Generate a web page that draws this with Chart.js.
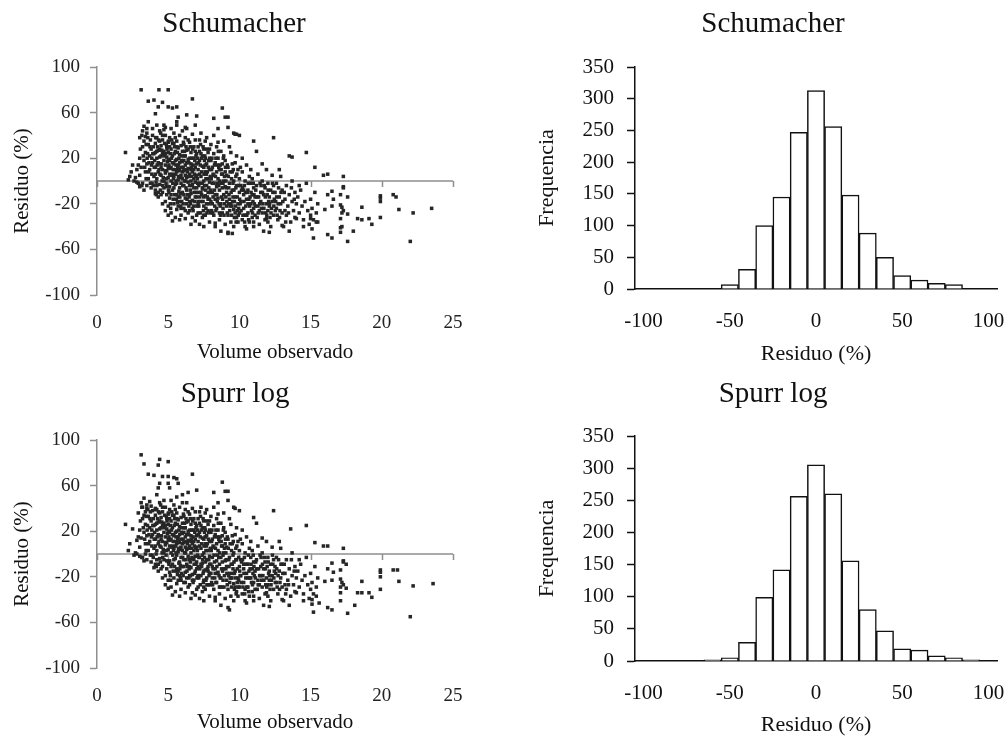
<!DOCTYPE html>
<html>
<head>
<meta charset="utf-8">
<script src="https://cdn.jsdelivr.net/npm/chart.js@4.4.1/dist/chart.umd.min.js"></script>
<style>
  html, body { margin: 0; padding: 0; background: #fff; overflow: hidden; }
  #wrap { position: relative; width: 1006px; height: 738px; overflow: hidden; }
  canvas { position: absolute; }
</style>
</head>
<body>
<div id="wrap">
  <canvas id="schScatter" width="466" height="370" style="left:0;top:0"></canvas>
  <canvas id="schHist" width="506" height="370" style="left:520px;top:0"></canvas>
  <canvas id="spuScatter" width="466" height="370" style="left:0;top:368px"></canvas>
  <canvas id="spuHist" width="506" height="370" style="left:520px;top:368px"></canvas>
</div>
<script>
// axis ticks
const volumeTicks = [0, 5, 10, 15, 20, 25];
const residualTicks = [-100, -60, -20, 20, 60, 100];
const freqTicks = [0, 50, 100, 150, 200, 250, 300, 350];

// histogram classes (residuo %) and counts
const residualBins = [-100, -90, -80, -70, -60, -50, -40, -30, -20, -10, 0, 10, 20, 30, 40, 50, 60, 70, 80, 90, 100];
const schumacherFreq = [0, 0, 0, 0, 0, 7, 31, 100, 145, 247, 313, 256, 148, 88, 50, 21, 14, 9, 7, 0, 0];
const spurrFreq = [0, 0, 0, 0, 2, 5, 29, 99, 142, 256, 305, 260, 156, 80, 47, 19, 17, 8, 5, 2, 0];

const schumacherPoints = [
  [3.1,80],[4.35,80],[5.0,80],[6.7,72],[3.6,70],[4.0,71],[4.6,69],[5.0,65],[5.3,64],[5.6,65],[4.3,65],[5.7,56],
  [6.3,58],[7.0,57],[4.1,59],[3.6,52],[4.2,49],[4.7,49],[3.5,46],[3.9,46],[4.8,47],[5.6,49],[6.2,47],[6.9,49],
  [3.0,38],[3.4,39],[2.0,25],[2.5,14],[2.3,4],[2.7,3],[4.1,-11],[5.0,-30],[5.8,-34],[6.7,-32],[7.5,-40],[8.3,-37],
  [2.2,1],[2.6,0],[2.9,-2],[2.4,8],[2.8,10],[3.0,-5],[3.3,-8],[8.2,55],[8.5,46],[9.6,42],[9.8,41],[13.5,22],
  [8.8,64],[9.0,56],[9.2,56],[9.2,47],[9.7,41],[10.0,40],[11.0,35],[12.4,38],[13.7,21],[14.7,25],[15.3,12],[15.9,5],
  [9.2,-45],[9.5,-46],[12.1,-45],[15.2,-50],[11.0,-36],[11.9,-33],[13.0,-39],[14.0,-33],[15.0,-33],[15.5,-36],
  [16.2,6],[17.3,4],[17.3,-5],[17.3,-6],[16.5,-9],[16.2,-12],[17.1,-12],[17.6,-14],[16.6,-16],[16.5,-22],[17.1,-21],
  [17.2,-23],[17.3,-26],[16.0,-25],[17.2,-28],[17.6,-29],[17.1,-33],[18.6,-23],[18.3,-33],[18.6,-34],[19.1,-33],
  [19.3,-38],[19.9,-13],[19.9,-15],[19.9,-18],[19.9,-32],[20.8,-12],[21.0,-14],[21.2,-25],[22.2,-28],[23.5,-24],
  [22.0,-53],[17.1,-41],[17.2,-40],[17.1,-45],[16.2,-47],[16.5,-50],[17.6,-53],[18.0,-44],
  [3.0,5],[3.1,12],[3.2,30],[3.2,-2],[3.3,18],[3.3,35],[3.4,8],[3.4,25],[3.5,-4],[3.5,15],[3.6,32],[3.6,2],
  [3.7,22],[3.7,10],[3.8,-6],[3.8,28],[3.9,16],[3.9,40],[4.0,4],[4.0,24],[3.2,44],[3.5,42],[3.0,20],[2.8,-1],[2.9,14],
  [4.1,-8],[4.1,12],[4.1,33],[4.2,2],[4.2,20],[4.2,38],[4.3,-14],[4.3,8],[4.3,27],[4.4,-3],[4.4,15],[4.4,44],
  [4.5,5],[4.5,22],[4.5,31],[4.6,-10],[4.6,10],[4.6,36],[4.7,0],[4.7,18],[4.7,26],[4.8,-18],[4.8,7],[4.8,14],
  [4.8,40],[4.9,-5],[4.9,21],[4.9,30],[5.0,3],[5.0,12],[5.0,-22],[5.0,34],[4.2,-4],[4.4,28],[4.6,-20],[4.9,9],
  [4.5,-12],[4.3,16],[4.7,45],[4.8,-26],[4.1,25],[4.6,24],[4.9,-12],[4.4,35],[5.0,25],
  [5.1,-15],[5.1,6],[5.1,18],[5.1,38],[5.2,-28],[5.2,0],[5.2,12],[5.2,28],[5.3,-8],[5.3,22],[5.3,33],[5.4,-20],
  [5.4,4],[5.4,15],[5.4,42],[5.5,-3],[5.5,10],[5.5,26],[5.6,-25],[5.6,-12],[5.6,8],[5.6,19],[5.6,35],[5.7,1],
  [5.7,14],[5.7,29],[5.8,-18],[5.8,-6],[5.8,23],[5.8,40],[5.9,-30],[5.9,5],[5.9,12],[5.9,31],[6.0,-10],[6.0,17],
  [6.0,2],[6.0,26],[5.3,-35],[5.5,-32],[5.7,-22],[5.2,46],[5.6,52],[5.9,-2],[5.1,-5],[5.4,33],[5.7,-14],[5.5,18],
  [5.3,6],[5.8,9],
  [6.1,-24],[6.1,-4],[6.1,9],[6.1,32],[6.2,-15],[6.2,14],[6.2,22],[6.2,38],[6.3,-8],[6.3,3],[6.3,27],[6.4,-28],
  [6.4,-1],[6.4,11],[6.4,19],[6.5,-18],[6.5,6],[6.5,34],[6.6,-11],[6.6,15],[6.6,25],[6.7,-3],[6.7,8],[6.7,41],
  [6.8,-22],[6.8,2],[6.8,20],[6.8,30],[6.9,-14],[6.9,12],[6.9,-35],[7.0,-6],[7.0,5],[7.0,24],[6.2,-33],[6.5,-26],
  [6.3,46],[6.6,-38],[6.9,36],[6.0,44],[6.4,28],[6.7,-17],[6.1,18],[6.5,-4],[6.8,10],[7.0,15],[6.6,0],[6.3,-20],
  [6.9,-1],[6.2,5],
  [7.1,-28],[7.1,-10],[7.1,10],[7.1,30],[7.2,-2],[7.2,18],[7.2,36],[7.3,-18],[7.3,4],[7.3,24],[7.4,-32],[7.4,-7],
  [7.4,13],[7.5,0],[7.5,28],[7.5,-22],[7.6,8],[7.6,-13],[7.6,20],[7.7,-4],[7.7,15],[7.7,38],[7.8,-26],[7.8,2],
  [7.8,25],[7.9,-16],[7.9,10],[7.9,-36],[8.0,-8],[8.0,18],[8.0,32],[7.2,-38],[7.5,12],[7.8,-10],[7.3,42],[7.6,-30],
  [7.9,-1],[7.4,22],[7.1,-18],[7.7,-20],[7.0,-30],[7.5,-14],[7.9,28],[7.2,6],[7.6,35],
  [8.1,-20],[8.1,-2],[8.1,12],[8.2,-30],[8.2,5],[8.2,24],[8.3,-12],[8.3,-40],[8.3,16],[8.4,-5],[8.4,30],[8.4,-24],
  [8.5,2],[8.5,-15],[8.5,20],[8.6,-34],[8.6,-8],[8.6,10],[8.7,-2],[8.7,26],[8.7,-20],[8.8,6],[8.8,-28],[8.8,15],
  [8.9,-12],[8.9,0],[8.9,35],[9.0,-38],[9.0,-5],[9.0,18],[8.2,40],[8.5,34],[8.3,-16],[8.7,-44],[8.9,22],[8.1,-10],
  [8.4,8],[8.6,-28],[8.8,-6],[9.0,8],
  [9.1,-22],[9.1,-10],[9.1,5],[9.2,-30],[9.2,12],[9.3,-2],[9.3,-16],[9.4,25],[9.4,-36],[9.5,-8],[9.5,8],[9.6,-25],
  [9.6,0],[9.7,-14],[9.7,16],[9.8,-32],[9.8,-4],[9.9,-20],[9.9,10],[10.0,-10],[10.0,-28],[10.0,2],[9.3,30],[9.6,-40],
  [9.8,22],[9.2,-46],[9.4,-20],[9.7,-28],[9.9,-36],[9.5,15],
  [10.1,-18],[10.1,-4],[10.2,-34],[10.2,8],[10.3,-12],[10.3,-24],[10.4,0],[10.4,-40],[10.5,-16],[10.5,14],[10.6,-8],
  [10.6,-28],[10.7,4],[10.7,-36],[10.8,-20],[10.8,-2],[10.9,-12],[10.9,-32],[11.0,-6],[11.0,-24],[10.2,20],[10.5,-42],
  [10.8,10],[11.0,-40],[10.3,-8],[10.6,-20],[10.9,2],[10.4,-30],
  [11.1,-14],[11.1,-30],[11.2,-4],[11.3,-22],[11.3,6],[11.4,-38],[11.5,-10],[11.5,-18],[11.6,0],[11.6,-28],[11.7,-12],
  [11.8,-34],[11.8,-6],[11.9,-20],[12.0,-2],[12.0,-26],[12.1,-14],[12.2,-40],[12.2,-8],[12.3,-18],[12.4,-30],[12.4,-4],
  [11.2,26],[11.6,15],[11.9,10],[12.3,5],[11.4,-26],[12.0,-36],[11.7,-44],[12.1,-22],
  [12.5,-10],[12.6,-24],[12.6,-2],[12.7,-34],[12.8,-14],[12.9,-20],[12.9,4],[13.0,-28],[13.0,-8],[13.1,-40],[13.2,-16],
  [13.3,-4],[13.3,-30],[13.4,-22],[13.5,-12],[13.6,-36],[13.7,-18],[13.7,0],[13.8,-26],[13.9,-10],[14.0,-20],[12.8,10],
  [13.5,-44],[13.2,-26],[13.9,-32],
  [14.1,-14],[14.2,-28],[14.3,-8],[14.4,-22],[14.5,-34],[14.6,-18],[14.7,-2],[14.8,-26],[14.9,-38],[15.0,-16],[15.0,-30],
  [15.1,-24],[15.2,-34],[15.3,-10],[15.4,-28],[15.5,-20],[14.5,-40],[15.1,-42],[14.2,-4],[15.4,-36],
  // dense core
  [4.05,18],[4.15,-1],[4.25,30],[4.35,10],[4.45,-8],[4.55,27],[4.65,3],[4.75,33],[4.85,-2],[4.95,17],
  [4.1,6],[4.2,26],[4.3,-10],[4.4,21],[4.5,12],[4.6,40],[4.7,-6],[4.8,24],[4.9,2],[5.0,19],
  [5.05,-10],[5.15,24],[5.25,5],[5.35,-16],[5.45,30],[5.55,0],[5.65,-19],[5.75,20],[5.85,-11],[5.95,22],
  [5.05,14],[5.15,-20],[5.25,36],[5.35,10],[5.45,-12],[5.55,14],[5.65,25],[5.75,-9],[5.85,3],[5.95,-18],
  [5.1,30],[5.2,-12],[5.3,16],[5.4,-6],[5.5,38],[5.6,-2],[5.7,10],[5.8,16],[5.9,-24],[6.0,8],
  [6.05,-20],[6.15,0],[6.25,30],[6.35,-12],[6.45,16],[6.55,-8],[6.65,20],[6.75,-26],[6.85,6],[6.95,-10],
  [6.05,12],[6.15,26],[6.25,-6],[6.35,8],[6.45,-22],[6.55,30],[6.65,4],[6.75,14],[6.85,-18],[6.95,22],
  [6.1,-12],[6.2,-26],[6.3,16],[6.4,36],[6.5,-12],[6.6,10],[6.7,-24],[6.8,-6],[6.9,26],[7.0,-14],
  [7.05,2],[7.15,-22],[7.25,14],[7.35,-12],[7.45,30],[7.55,-4],[7.65,-24],[7.75,8],[7.85,18],[7.95,-28],
  [7.05,20],[7.15,-4],[7.25,-28],[7.35,8],[7.45,-18],[7.55,18],[7.65,2],[7.75,-14],[7.85,-6],[7.95,4],
  [7.1,-20],[7.2,26],[7.3,-10],[7.4,-2],[7.5,-30],[7.6,14],[7.7,28],[7.8,-16],[7.9,20],[8.0,-18],
  [8.05,-26],[8.15,6],[8.25,-8],[8.35,20],[8.45,-18],[8.55,-4],[8.65,14],[8.75,-14],[8.85,-24],[8.95,4],
  [8.05,10],[8.15,-14],[8.25,14],[8.35,-26],[8.45,-2],[8.55,12],[8.65,-22],[8.75,6],[8.85,-2],[8.95,-20],
  [9.05,-14],[9.15,-28],[9.25,-6],[9.35,-22],[9.45,2],[9.55,-14],[9.65,-32],[9.75,-6],[9.85,-14],[9.95,-24],
  [9.05,0],[9.15,14],[9.25,-20],[9.35,8],[9.45,-30],[9.55,-2],[9.65,-18],[9.75,4],[9.85,-26],[9.95,-4],
  [10.05,-20],[10.15,-8],[10.25,-30],[10.35,-4],[10.45,-22],[10.55,-10],[10.65,-34],[10.75,-14],[10.85,-26],[10.95,-18],
  [11.05,-20],[11.15,-8],[11.25,-32],[11.35,-14],[11.45,-2],[11.55,-24],[11.65,-20],[11.75,-4],[11.85,-28],[11.95,-12],
  [12.05,-18],[12.15,-32],[12.25,-24],[12.35,-10],[12.45,-16],
  [12.55,-18],[12.65,-30],[12.75,-6],[12.85,-26],[13.05,-18],[13.15,-10],[13.25,-36],[13.45,-28],[13.65,-6],[13.85,-16],
  [3.05,28],[3.15,-4],[3.25,22],[3.35,12],[3.45,32],[3.55,24],[3.65,16],[3.75,36],[3.85,6],[3.95,30],
  [3.15,40],[3.45,2],[3.75,-2],[3.85,20],[3.3,48],[3.95,-4],
  [4.52,15],[4.62,-4],[4.72,22],[4.82,9],[4.92,28],[5.02,-8],[5.12,11],[5.22,20],[5.32,-2],[5.42,24],[5.52,6],
  [5.02,35],[4.57,0],[4.87,32],[5.17,-24],[5.37,2],
  [5.57,-16],[5.62,30],[5.72,4],[5.82,-14],[5.92,18],[6.02,-4],[6.12,22],[6.22,0],[6.32,-16],[6.42,4],[6.52,20],
  [5.67,12],[5.87,-22],[6.07,34],[6.27,10],[6.47,-14],
  [6.57,-20],[6.62,12],[6.72,28],[6.82,-10],[6.92,4],[7.02,-22],[7.12,16],[7.22,-14],[7.32,20],[7.42,-6],[7.52,6],
  [6.67,-4],[6.87,18],[7.07,-2],[7.27,32],[7.47,-26],
  [7.57,22],[7.62,-8],[7.72,-28],[7.82,12],[7.92,-10],[8.02,2],[8.12,-28],[8.22,-2],[8.32,4],[8.42,-12],[8.52,26],
  [7.67,6],[7.87,-20],[8.07,20],[8.27,-22],[8.47,14],
  [8.57,-20],[8.62,0],[8.72,10],[8.82,-16],[8.92,-30],[9.02,12],[9.12,-18],[9.22,4],[9.32,-26],[9.42,-10],
  [8.67,-30],[8.87,20],[9.07,-6],[9.27,-12],[9.47,-22],
  [9.52,-18],[9.62,-8],[9.72,-22],[9.82,6],[9.92,-30],[10.02,-16],[10.12,-26],[10.22,-6],[10.32,-18],[10.42,-10],
  [10.52,-30],[10.62,-2],[10.72,-22],[10.82,-10],[10.92,-28],[9.57,10],[9.77,-36],[10.07,12],[10.37,-36],[10.67,-16],[10.97,-2],
  [11.02,-12],[11.12,-22],[11.22,-14],[11.32,-28],[11.42,-20],[11.52,-4],[11.62,-10],[11.72,-24],[11.82,-14],[11.92,-30],
  [12.02,-8],[12.12,-20],[12.22,-28],[12.32,-2],[12.42,-22],[12.52,-26],[12.62,-14],[12.72,-20],[12.82,-32],[12.92,-10],
  [3.52,20],[3.62,8],[3.72,30],[3.82,14],[3.92,24],[4.02,12],[4.12,38],[4.22,14],[4.32,36],[4.42,6],
  [3.57,38],[3.87,-2],[4.17,-12],[4.47,42]
];

const spurrPoints = [
  [3.1,87],[3.3,79],[4.4,83],[4.3,78],[5.0,81],[6.7,70],[3.6,70],[4.0,69],[4.6,68],[5.0,68],[5.4,67],[5.6,66],
  [4.4,62],[5.0,62],[5.7,62],[4.3,58],[5.1,58],[6.0,52],[6.4,54],[7.0,56],[4.2,52],[3.7,46],[3.1,45],[3.5,43],
  [3.8,42],[4.1,40],[2.9,36],[3.4,37],[2.0,26],[2.5,22],[2.3,9],[2.7,1],[3.0,-2],[3.4,0],[4.0,-12],[5.0,-30],
  [5.8,-37],[6.7,-34],[7.5,-41],[8.3,-38],[2.2,3],[2.6,-1],[2.8,12],[3.3,-6],[8.2,54],[8.5,45],[9.6,41],[13.6,22],
  [8.8,63],[9.0,55],[9.2,55],[9.2,47],[9.7,40],[10.0,38],[11.0,32],[12.4,38],[14.7,25],[15.3,10],[15.9,7],
  [9.2,-47],[9.3,-49],[12.1,-46],[15.2,-51],[15.1,-44],[15.6,-43],[11.0,-37],[11.9,-34],[13.0,-40],[14.0,-34],
  [16.2,7],[17.3,5],[17.3,-6],[17.3,-7],[17.5,-9],[16.5,-8],[16.2,-13],[17.1,-14],[16.6,-16],[16.0,-24],[16.5,-23],
  [17.1,-22],[17.2,-25],[17.3,-27],[17.5,-30],[17.1,-29],[17.1,-34],[17.1,-41],[16.2,-47],[16.5,-49],[17.6,-52],
  [18.1,-45],[18.6,-24],[18.3,-34],[18.6,-34],[19.1,-34],[19.3,-38],[19.9,-14],[19.9,-16],[19.9,-20],[19.9,-31],
  [20.8,-14],[21.1,-14],[21.2,-24],[22.2,-28],[23.6,-26],[22.0,-55],
  [3.0,6],[3.1,14],[3.2,31],[3.2,-3],[3.3,19],[3.3,34],[3.4,9],[3.4,26],[3.5,-5],[3.5,16],[3.6,33],[3.6,3],
  [3.7,23],[3.7,11],[3.8,-7],[3.8,29],[3.9,17],[3.9,38],[4.0,5],[4.0,25],[3.2,41],[3.5,40],[3.0,21],[2.8,0],[2.9,15],
  [4.1,-9],[4.1,13],[4.1,34],[4.2,3],[4.2,21],[4.2,39],[4.3,-15],[4.3,9],[4.3,28],[4.4,-4],[4.4,16],[4.4,45],
  [4.5,6],[4.5,23],[4.5,32],[4.6,-11],[4.6,11],[4.6,37],[4.7,1],[4.7,19],[4.7,27],[4.8,-19],[4.8,8],[4.8,15],
  [4.8,41],[4.9,-6],[4.9,22],[4.9,31],[5.0,4],[5.0,13],[5.0,-23],[5.0,35],[4.2,-5],[4.4,29],[4.6,-21],[4.9,10],
  [4.5,-13],[4.3,17],[4.7,47],[4.8,-27],[4.1,26],[4.6,25],[4.9,-13],[4.4,36],[5.0,26],
  [5.1,-16],[5.1,7],[5.1,19],[5.1,39],[5.2,-29],[5.2,1],[5.2,13],[5.2,29],[5.3,-9],[5.3,23],[5.3,34],[5.4,-21],
  [5.4,5],[5.4,16],[5.4,43],[5.5,-4],[5.5,11],[5.5,27],[5.6,-26],[5.6,-13],[5.6,9],[5.6,20],[5.6,36],[5.7,2],
  [5.7,15],[5.7,30],[5.8,-19],[5.8,-7],[5.8,24],[5.8,41],[5.9,-31],[5.9,6],[5.9,13],[5.9,32],[6.0,-11],[6.0,18],
  [6.0,3],[6.0,27],[5.3,-36],[5.5,-33],[5.7,-23],[5.2,47],[5.6,50],[5.9,-3],[5.1,-6],[5.4,34],[5.7,-15],[5.5,19],
  [5.3,7],[5.8,10],
  [6.1,-25],[6.1,-5],[6.1,10],[6.1,33],[6.2,-16],[6.2,15],[6.2,23],[6.2,39],[6.3,-9],[6.3,4],[6.3,28],[6.4,-29],
  [6.4,-2],[6.4,12],[6.4,20],[6.5,-19],[6.5,7],[6.5,35],[6.6,-12],[6.6,16],[6.6,26],[6.7,-4],[6.7,9],[6.7,40],
  [6.8,-23],[6.8,3],[6.8,21],[6.8,31],[6.9,-15],[6.9,13],[6.9,-36],[7.0,-7],[7.0,6],[7.0,25],[6.2,-34],[6.5,-27],
  [6.3,45],[6.6,-39],[6.9,37],[6.0,45],[6.4,29],[6.7,-18],[6.1,19],[6.5,-5],[6.8,11],[7.0,16],[6.6,1],[6.3,-21],
  [6.9,-2],[6.2,6],
  [7.1,-29],[7.1,-11],[7.1,11],[7.1,31],[7.2,-3],[7.2,19],[7.2,37],[7.3,-19],[7.3,5],[7.3,25],[7.4,-33],[7.4,-8],
  [7.4,14],[7.5,1],[7.5,29],[7.5,-23],[7.6,9],[7.6,-14],[7.6,21],[7.7,-5],[7.7,16],[7.7,39],[7.8,-27],[7.8,3],
  [7.8,26],[7.9,-17],[7.9,11],[7.9,-37],[8.0,-9],[8.0,19],[8.0,33],[7.2,-39],[7.5,13],[7.8,-11],[7.3,41],[7.6,-31],
  [7.9,-2],[7.4,23],[7.1,-19],[7.7,-21],[7.0,-31],[7.5,-15],[7.9,29],[7.2,7],[7.6,36],
  [8.1,-21],[8.1,-3],[8.1,13],[8.2,-31],[8.2,6],[8.2,25],[8.3,-13],[8.3,-41],[8.3,17],[8.4,-6],[8.4,31],[8.4,-25],
  [8.5,3],[8.5,-16],[8.5,21],[8.6,-35],[8.6,-9],[8.6,11],[8.7,-3],[8.7,27],[8.7,-21],[8.8,7],[8.8,-29],[8.8,16],
  [8.9,-13],[8.9,1],[8.9,36],[9.0,-39],[9.0,-6],[9.0,19],[8.2,41],[8.5,35],[8.3,-17],[8.7,-45],[8.9,23],[8.1,-11],
  [8.4,9],[8.6,-29],[8.8,-7],[9.0,9],
  [9.1,-23],[9.1,-11],[9.1,6],[9.2,-31],[9.2,13],[9.3,-3],[9.3,-17],[9.4,26],[9.4,-37],[9.5,-9],[9.5,9],[9.6,-26],
  [9.6,1],[9.7,-15],[9.7,17],[9.8,-33],[9.8,-5],[9.9,-21],[9.9,11],[10.0,-11],[10.0,-29],[10.0,3],[9.3,31],[9.6,-41],
  [9.8,23],[9.4,-21],[9.7,-29],[9.9,-37],[9.5,16],
  [10.1,-19],[10.1,-5],[10.2,-35],[10.2,9],[10.3,-13],[10.3,-25],[10.4,1],[10.4,-41],[10.5,-17],[10.5,15],[10.6,-9],
  [10.6,-29],[10.7,5],[10.7,-37],[10.8,-21],[10.8,-3],[10.9,-13],[10.9,-33],[11.0,-7],[11.0,-25],[10.2,21],[10.5,-43],
  [10.8,11],[11.0,-41],[10.3,-9],[10.6,-21],[10.9,3],[10.4,-31],
  [11.1,-15],[11.1,-31],[11.2,-5],[11.3,-23],[11.3,7],[11.4,-39],[11.5,-11],[11.5,-19],[11.6,1],[11.6,-29],[11.7,-13],
  [11.8,-35],[11.8,-7],[11.9,-21],[12.0,-3],[12.0,-27],[12.1,-15],[12.2,-41],[12.2,-9],[12.3,-19],[12.4,-31],[12.4,-5],
  [11.2,27],[11.6,14],[11.9,11],[12.3,6],[11.4,-27],[12.0,-37],[11.7,-45],[12.1,-23],
  [12.5,-11],[12.6,-25],[12.6,-3],[12.7,-35],[12.8,-15],[12.9,-21],[12.9,5],[13.0,-29],[13.0,-9],[13.1,-41],[13.2,-17],
  [13.3,-5],[13.3,-31],[13.4,-23],[13.5,-13],[13.6,-37],[13.7,-19],[13.7,1],[13.8,-27],[13.9,-11],[14.0,-21],[12.8,11],
  [13.5,-45],[13.2,-27],[13.9,-33],
  [14.1,-15],[14.2,-29],[14.3,-9],[14.4,-23],[14.5,-35],[14.6,-19],[14.7,-3],[14.8,-27],[14.9,-39],[15.0,-17],[15.0,-31],
  [15.1,-25],[15.2,-35],[15.3,-11],[15.4,-29],[15.5,-21],[14.5,-41],[15.1,-40],[14.2,-5],[15.4,-37],
  // dense core
  [4.05,19],[4.15,0],[4.25,31],[4.35,11],[4.45,-7],[4.55,28],[4.65,4],[4.75,34],[4.85,-1],[4.95,18],
  [4.1,7],[4.2,27],[4.3,-9],[4.4,22],[4.5,13],[4.6,41],[4.7,-5],[4.8,25],[4.9,3],[5.0,20],
  [5.05,-9],[5.15,25],[5.25,6],[5.35,-15],[5.45,31],[5.55,1],[5.65,-18],[5.75,21],[5.85,-10],[5.95,23],
  [5.05,15],[5.15,-19],[5.25,37],[5.35,11],[5.45,-11],[5.55,15],[5.65,26],[5.75,-8],[5.85,4],[5.95,-17],
  [5.1,31],[5.2,-11],[5.3,17],[5.4,-5],[5.5,39],[5.6,-1],[5.7,11],[5.8,17],[5.9,-23],[6.0,9],
  [6.05,-19],[6.15,1],[6.25,31],[6.35,-11],[6.45,17],[6.55,-7],[6.65,21],[6.75,-25],[6.85,7],[6.95,-9],
  [6.05,13],[6.15,27],[6.25,-5],[6.35,9],[6.45,-21],[6.55,31],[6.65,5],[6.75,15],[6.85,-17],[6.95,23],
  [6.1,-11],[6.2,-25],[6.3,17],[6.4,37],[6.5,-11],[6.6,11],[6.7,-23],[6.8,-5],[6.9,27],[7.0,-13],
  [7.05,3],[7.15,-21],[7.25,15],[7.35,-11],[7.45,31],[7.55,-3],[7.65,-23],[7.75,9],[7.85,19],[7.95,-27],
  [7.05,21],[7.15,-3],[7.25,-27],[7.35,9],[7.45,-17],[7.55,19],[7.65,3],[7.75,-13],[7.85,-5],[7.95,5],
  [7.1,-19],[7.2,27],[7.3,-9],[7.4,-1],[7.5,-29],[7.6,15],[7.7,29],[7.8,-15],[7.9,21],[8.0,-17],
  [8.05,-25],[8.15,7],[8.25,-7],[8.35,21],[8.45,-17],[8.55,-3],[8.65,15],[8.75,-13],[8.85,-23],[8.95,5],
  [8.05,11],[8.15,-13],[8.25,15],[8.35,-25],[8.45,-1],[8.55,13],[8.65,-21],[8.75,7],[8.85,-1],[8.95,-19],
  [9.05,-13],[9.15,-27],[9.25,-5],[9.35,-21],[9.45,3],[9.55,-13],[9.65,-31],[9.75,-5],[9.85,-13],[9.95,-23],
  [9.05,1],[9.15,15],[9.25,-19],[9.35,9],[9.45,-29],[9.55,-1],[9.65,-17],[9.75,5],[9.85,-25],[9.95,-3],
  [10.05,-19],[10.15,-7],[10.25,-29],[10.35,-3],[10.45,-21],[10.55,-9],[10.65,-33],[10.75,-13],[10.85,-25],[10.95,-17],
  [11.05,-19],[11.15,-7],[11.25,-31],[11.35,-13],[11.45,-1],[11.55,-23],[11.65,-19],[11.75,-3],[11.85,-27],[11.95,-11],
  [12.05,-17],[12.15,-31],[12.25,-23],[12.35,-9],[12.45,-15],
  [12.55,-17],[12.65,-29],[12.75,-5],[12.85,-25],[13.05,-17],[13.15,-9],[13.25,-35],[13.45,-27],[13.65,-5],[13.85,-15],
  [3.05,29],[3.15,-3],[3.25,23],[3.35,13],[3.45,33],[3.55,25],[3.65,17],[3.75,37],[3.85,7],[3.95,31],
  [3.15,41],[3.45,3],[3.75,-1],[3.85,21],[3.3,49],[3.95,-3],
  [4.52,16],[4.62,-3],[4.72,23],[4.82,10],[4.92,29],[5.02,-7],[5.12,12],[5.22,21],[5.32,-1],[5.42,25],[5.52,7],
  [5.02,36],[4.57,1],[4.87,33],[5.17,-23],[5.37,3],
  [5.57,-15],[5.62,31],[5.72,5],[5.82,-13],[5.92,19],[6.02,-3],[6.12,23],[6.22,1],[6.32,-15],[6.42,5],[6.52,21],
  [5.67,13],[5.87,-21],[6.07,35],[6.27,11],[6.47,-13],
  [6.57,-19],[6.62,13],[6.72,29],[6.82,-9],[6.92,5],[7.02,-21],[7.12,17],[7.22,-13],[7.32,21],[7.42,-5],[7.52,7],
  [6.67,-3],[6.87,19],[7.07,-1],[7.27,33],[7.47,-25],
  [7.57,23],[7.62,-7],[7.72,-27],[7.82,13],[7.92,-9],[8.02,3],[8.12,-27],[8.22,-1],[8.32,5],[8.42,-11],[8.52,27],
  [7.67,7],[7.87,-19],[8.07,21],[8.27,-21],[8.47,15],
  [8.57,-19],[8.62,1],[8.72,11],[8.82,-15],[8.92,-29],[9.02,13],[9.12,-17],[9.22,5],[9.32,-25],[9.42,-9],
  [8.67,-29],[8.87,21],[9.07,-5],[9.27,-11],[9.47,-21],
  [9.52,-17],[9.62,-7],[9.72,-21],[9.82,7],[9.92,-29],[10.02,-15],[10.12,-25],[10.22,-5],[10.32,-17],[10.42,-9],
  [10.52,-29],[10.62,-1],[10.72,-21],[10.82,-9],[10.92,-27],[9.57,11],[9.77,-35],[10.07,13],[10.37,-35],[10.67,-15],[10.97,-1],
  [11.02,-11],[11.12,-21],[11.22,-13],[11.32,-27],[11.42,-19],[11.52,-3],[11.62,-9],[11.72,-23],[11.82,-13],[11.92,-29],
  [12.02,-7],[12.12,-19],[12.22,-27],[12.32,-1],[12.42,-21],[12.52,-25],[12.62,-13],[12.72,-19],[12.82,-31],[12.92,-9],
  [3.52,21],[3.62,9],[3.72,31],[3.82,15],[3.92,25],[4.02,13],[4.12,39],[4.22,15],[4.32,37],[4.42,7],
  [3.57,39],[3.87,-1],[4.17,-11],[4.47,43]
];

const SERIF = '"Liberation Serif", "Times New Roman", serif';

// panel title drawn at a fixed spot (Excel centres it over the whole panel)
const panelTitle = {
  id: 'panelTitle',
  afterDraw(chart, args, opts) {
    const ctx = chart.ctx;
    ctx.save();
    ctx.font = opts.size + 'px ' + SERIF;
    ctx.fillStyle = '#111';
    ctx.textAlign = 'center';
    ctx.textBaseline = 'middle';
    ctx.fillText(opts.text, opts.x, opts.y);
    ctx.restore();
  }
};

// horizontal line at residuo = 0 with the x tick marks hanging from it
const zeroLine = {
  id: 'zeroLine',
  beforeDatasetsDraw(chart) {
    const { ctx, scales: { x, y } } = chart;
    const y0 = y.getPixelForValue(0);
    ctx.save();
    ctx.strokeStyle = '#8f8f8f';
    ctx.lineWidth = 1.5;
    ctx.beginPath();
    ctx.moveTo(x.left, y0);
    ctx.lineTo(x.right, y0);
    x.ticks.forEach(t => {
      const px = Math.round(x.getPixelForValue(t.value)) + 0.5;
      ctx.moveTo(px, y0);
      ctx.lineTo(px, y0 + 6);
    });
    ctx.stroke();
    ctx.restore();
  }
};

function scatterChart(id, title, points, g) {
  return new Chart(document.getElementById(id), {
    type: 'scatter',
    data: {
      datasets: [{
        data: points.map(p => ({ x: p[0], y: p[1] })),
        pointStyle: 'rect',
        pointRadius: 2.5,
        backgroundColor: '#262626',
        borderWidth: 0
      }]
    },
    options: {
      responsive: false,
      animation: false,
      layout: { padding: { left: 0, right: g.padRight, top: g.top, bottom: 0 } },
      plugins: {
        legend: { display: false },
        tooltip: { enabled: false },
        panelTitle: { text: title, x: g.titleX, y: g.titleY, size: 29 }
      },
      scales: {
        x: {
          type: 'linear', min: 0, max: 25,
          afterBuildTicks: s => { s.ticks = volumeTicks.map(v => ({ value: v })); },
          border: { display: false },
          grid: { display: false, drawTicks: false },
          ticks: { padding: 17, color: '#222', maxRotation: 0, font: { family: SERIF, size: 19 } },
          title: { display: true, text: 'Volume observado', color: '#111',
                   font: { family: SERIF, size: 21 }, padding: { top: 0, bottom: g.xTitlePad } },
          afterFit: s => { s.height = g.xHeight; s.paddingLeft = 0; s.paddingRight = 0; }
        },
        y: {
          min: -100, max: 100,
          afterBuildTicks: s => { s.ticks = residualTicks.map(v => ({ value: v })); },
          border: { display: true, color: '#8f8f8f', width: 1.5 },
          grid: { drawOnChartArea: false, drawTicks: true, tickLength: 7, tickColor: '#8f8f8f', tickWidth: 1.5 },
          ticks: { padding: 10, color: '#222', font: { family: SERIF, size: 19 } },
          title: { display: true, text: 'Residuo (%)', color: '#111',
                   font: { family: SERIF, size: 21 }, padding: { top: 10, bottom: 0 } },
          afterFit: s => { s.width = g.yWidth; s.paddingTop = 0; s.paddingBottom = 0; }
        }
      }
    },
    plugins: [zeroLine, panelTitle]
  });
}

function histChart(id, title, freq, g) {
  return new Chart(document.getElementById(id), {
    type: 'bar',
    data: {
      labels: residualBins,
      datasets: [{
        data: freq,
        backgroundColor: '#ffffff',
        borderColor: '#111',
        borderWidth: 1.5,
        barPercentage: 1,
        categoryPercentage: 1
      }]
    },
    options: {
      responsive: false,
      animation: false,
      layout: { padding: { left: 0, right: g.padRight, top: g.top, bottom: 0 } },
      plugins: {
        legend: { display: false },
        tooltip: { enabled: false },
        panelTitle: { text: title, x: g.titleX, y: g.titleY, size: 29 }
      },
      scales: {
        x: {
          border: { display: true, color: '#111', width: 1.5 },
          grid: { display: false, drawTicks: false },
          ticks: {
            autoSkip: false, maxRotation: 0, padding: 20, color: '#111',
            font: { family: SERIF, size: 21 },
            callback: (v, i) => (residualBins[i] % 50 === 0 ? String(residualBins[i]) : '')
          },
          title: { display: true, text: 'Residuo (%)', color: '#111',
                   font: { family: SERIF, size: 22 }, padding: { top: 0, bottom: g.xTitlePad } },
          afterFit: s => { s.height = g.xHeight; s.paddingLeft = 0; s.paddingRight = 0; }
        },
        y: {
          min: 0, max: 350,
          afterBuildTicks: s => { s.ticks = freqTicks.map(v => ({ value: v })); },
          border: { display: true, color: '#111', width: 1.5 },
          grid: { drawOnChartArea: false, drawTicks: true, tickLength: 8, tickColor: '#111', tickWidth: 1.5 },
          ticks: { padding: 13, color: '#111', font: { family: SERIF, size: 21 } },
          title: { display: true, text: 'Frequencia', color: '#111',
                   font: { family: SERIF, size: 22 }, padding: { top: 14, bottom: 0 } },
          afterFit: s => { s.width = g.yWidth; s.paddingTop = 0; s.paddingBottom = 0; }
        }
      }
    },
    plugins: [panelTitle]
  });
}

scatterChart('schScatter', 'Schumacher', schumacherPoints,
  { top: 67, padRight: 13, yWidth: 97, xHeight: 75, xTitlePad: 5, titleX: 234, titleY: 24 });
scatterChart('spuScatter', 'Spurr log', spurrPoints,
  { top: 72, padRight: 13, yWidth: 97, xHeight: 70, xTitlePad: 3, titleX: 235, titleY: 26 });
histChart('schHist', 'Schumacher', schumacherFreq,
  { top: 67, padRight: 29, yWidth: 115, xHeight: 81, xTitlePad: 3, titleX: 253, titleY: 24 });
histChart('spuHist', 'Spurr log', spurrFreq,
  { top: 68, padRight: 29, yWidth: 115, xHeight: 77, xTitlePad: 0, titleX: 253, titleY: 26 });
</script>
</body>
</html>
